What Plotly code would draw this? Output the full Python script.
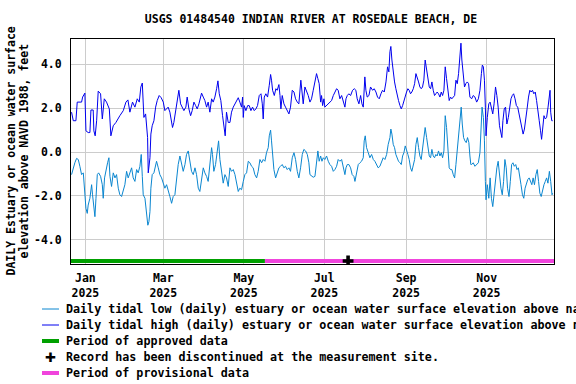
import pandas as pd
import plotly.graph_objects as go

# Day offsets from 2025-01-01 and values (feet)
high_day = [-10.5,-9.2,-7.2,-6.2,-2.9,-2.1,-0.4,0.4,2.1,3.4,4.2,5.9,6.4,7.4,8.5,9.7,11.5,12.8,14.3,16.0,18.1,19.3,21.1,23.1,26.1,28.7,30.7,32.2,33.7,35.7,37.5,39.3,40.8,42.0,43.1,44.3,45.6,47.1,47.6,
    48.9,49.6,50.6,51.9,53.2,54.4,55.9,57.4,59.0,60.2,61.5,62.7,64.0,65.3,66.0,67.0,68.3,69.6,70.8,72.1,73.4,74.6,76.1,77.1,78.4,79.7,80.9,82.2,83.5,84.7,86.0,87.2,88.0,89.3,90.5,91.8,93.0,94.3,95.6,96.8,98.1,99.4,100.4,101.4,102.6,103.9,104.9,105.9,106.9,108.2,
    109.5,110.7,112.0,113.3,114.5,115.8,117.0,118.3,119.1,119.6,120.3,121.6,122.9,124.1,125.4,126.6,127.9,129.2,130.4,131.7,133.0,134.0,134.7,135.5,136.7,138.0,139.3,140.3,141.0,141.8,143.1,144.3,145.3,146.6,147.4,148.1,149.1,150.4,151.6,152.9,154.2,155.4,156.7,158.0,159.2,160.5,161.7,163.2,164.3,165.0,166.3,167.5,168.8,
    170.1,171.3,172.6,173.9,175.1,176.1,177.1,178.2,178.9,179.7,180.7,181.4,182.7,184.0,185.2,186.5,187.8,189.0,190.3,191.5,192.8,194.1,195.3,196.6,197.4,198.4,199.6,200.9,202.4,203.7,204.9,205.9,207.2,208.5,209.5,210.5,211.7,212.5,213.5,214.8,216.0,217.6,218.8,220.1,221.3,222.6,223.9,225.1,226.4,227.7,228.9,229.9,
    230.7,231.4,232.2,233.2,234.2,235.2,236.2,237.2,238.3,239.3,240.3,241.3,242.3,243.3,244.3,245.3,246.3,247.3,248.4,249.4,250.4,251.4,252.4,253.4,254.4,255.4,256.4,257.4,258.5,259.5,260.5,261.5,262.5,263.5,264.5,265.5,266.5,267.5,268.6,269.6,270.6,271.6,272.6,273.6,274.6,275.6,276.6,277.6,278.7,279.7,280.7,281.7,282.7,283.7,284.5,285.2,286.2,287.2,288.2,289.3,290.3,
    291.3,292.6,293.8,295.1,296.4,297.7,298.9,300.0,300.7,301.5,302.3,303.0,303.5,304.5,305.6,306.6,307.6,308.6,309.6,310.7,311.7,312.7,313.7,314.8,315.5,316.3,317.3,318.3,319.3,320.4,321.4,322.4,323.4,324.4,325.5,326.5,327.5,328.5,329.5,330.6,331.6,332.6,333.6,334.6,335.7,336.7,337.7,338.7,339.7,340.8,341.8,342.8,343.8,344.8,345.6,346.4,347.4,348.4,349.4,350.5,351.5,352.0,352.5,353.3,354.0]
high_val = [1.82,1.43,1.43,2.28,2.28,2.51,2.69,0.97,0.89,0.89,1.92,1.92,0.97,0.74,1.43,2.78,2.66,1.51,2.43,2.28,1.97,0.74,1.2,1.35,1.66,1.89,2.28,2.38,1.82,2.28,2.05,2.43,2.28,2.97,3.15,1.58,1.74,0.66,-0.95,
    -0.26,0.82,1.2,1.43,2.05,2.35,2.58,2.48,2.28,1.89,1.97,2.05,1.82,1.35,1.12,1.35,1.89,2.43,2.82,2.2,2.05,1.89,2.05,2.51,1.97,1.66,1.89,2.28,2.12,1.97,2.2,2.43,2.69,2.51,2.35,2.05,2.28,1.82,2.43,2.28,2.51,2.89,3.25,2.66,2.35,1.66,1.2,0.74,1.82,1.35,
    1.35,1.82,2.05,2.2,2.35,2.48,2.28,2.05,2.51,1.58,2.12,1.89,2.12,2.12,1.89,2.05,1.89,1.97,2.12,2.58,2.66,2.2,1.51,2.51,2.66,2.51,3.05,3.54,3.28,2.82,2.58,2.89,2.82,3.08,2.58,1.97,2.58,2.2,2.05,1.89,1.74,2.05,2.82,2.74,2.43,2.28,2.2,3.28,2.58,2.2,2.97,2.82,2.58,
    2.28,2.43,2.82,3.2,3.58,3.35,3.12,2.28,2.58,2.12,2.43,2.05,2.12,2.2,2.28,2.35,2.58,2.74,2.89,2.82,2.43,2.58,2.35,2.05,2.43,2.58,2.66,2.58,2.82,2.89,2.82,2.43,2.2,2.58,2.2,2.05,3.43,2.82,2.51,2.58,2.97,2.82,2.89,2.74,2.51,2.43,2.66,2.82,2.74,3.2,3.89,3.66,
    4.58,4.82,4.2,3.58,3.2,2.89,2.58,2.35,2.12,1.97,2.12,2.35,2.51,2.74,2.89,2.82,2.66,2.74,2.89,3.12,3.58,3.43,3.2,2.97,2.89,2.97,3.28,4.2,3.82,3.35,2.97,2.89,3.2,2.82,2.58,2.66,2.74,2.66,2.51,2.74,2.58,2.82,3.89,3.35,2.74,2.35,2.51,2.43,2.51,2.58,3.28,3.12,3.58,4.66,4.97,4.2,3.43,2.97,3.12,3.2,3.12,
    2.51,2.43,2.58,2.51,2.28,2.43,2.82,3.58,3.97,3.89,3.28,2.05,0.74,1.58,2.2,2.28,2.05,1.74,2.2,2.97,2.58,2.05,1.2,0.82,0.66,1.43,1.97,2.05,1.28,1.58,2.05,2.43,2.58,2.66,2.43,2.12,2.05,1.74,1.43,1.12,0.82,1.05,1.43,1.97,2.51,2.82,2.74,2.82,2.66,2.74,2.35,1.97,1.43,0.97,0.58,1.05,1.66,1.51,1.58,2.05,2.43,2.82,1.82,1.43,1.43]

low_day = [-10.5,-9.2,-8.0,-6.7,-5.4,-4.2,-2.9,-1.6,-0.4,0.4,1.4,2.1,3.4,4.7,5.4,6.4,7.2,8.0,9.0,10.0,11.5,12.8,13.5,14.5,15.5,16.8,17.8,18.6,19.8,21.1,22.4,23.6,24.9,26.1,27.4,28.7,29.9,31.2,32.4,33.7,35.0,36.2,37.5,38.8,40.0,41.3,42.3,43.1,43.8,45.1,46.3,47.3,48.1,
    48.9,49.6,50.6,51.9,53.2,53.9,55.2,56.4,57.7,59.0,60.2,61.5,62.7,64.0,65.3,66.5,67.8,69.1,70.3,71.6,72.8,74.1,75.4,76.6,77.9,79.2,80.4,81.7,83.0,84.2,85.5,86.7,88.0,89.3,90.5,91.8,93.0,94.3,95.6,96.3,97.3,98.6,99.9,100.9,101.9,103.2,104.4,105.7,106.9,108.2,109.5,
    110.7,112.0,113.3,114.5,115.8,117.0,118.3,119.6,120.8,122.1,123.4,124.6,125.9,127.1,128.4,129.7,130.9,132.2,133.5,134.7,136.0,137.2,138.5,139.3,140.3,141.0,141.8,142.8,144.1,145.3,146.6,147.8,149.1,150.4,151.6,152.9,154.2,155.4,156.7,158.0,159.2,160.5,161.7,163.0,164.3,165.5,166.8,168.1,169.3,
    170.1,171.3,172.6,173.9,175.1,176.1,177.1,178.2,179.2,180.2,181.4,182.7,184.0,185.2,186.5,187.8,189.0,190.3,191.5,192.8,194.1,195.3,196.6,197.4,198.4,199.6,200.9,202.1,203.4,204.2,205.4,206.7,208.0,209.2,210.5,211.2,212.0,213.0,214.3,215.5,216.8,218.1,219.3,220.6,221.8,223.1,224.4,225.6,226.9,228.2,229.4,230.7,
    231.4,232.2,233.2,234.2,235.2,236.2,237.2,238.3,239.3,240.3,241.3,242.3,243.3,244.3,245.3,246.3,247.3,248.4,249.4,250.4,251.4,252.4,253.4,254.4,255.4,256.4,257.4,258.5,259.5,260.5,261.5,262.5,263.5,264.5,265.5,266.5,267.5,268.6,269.6,270.6,271.6,272.6,273.6,274.6,275.6,276.6,277.6,278.7,279.7,280.7,281.7,282.7,283.7,284.7,285.5,286.5,287.5,288.5,289.5,290.5,291.3,292.0,
    292.6,293.8,295.1,296.4,297.7,298.9,299.7,300.5,301.5,302.3,303.0,303.5,304.5,305.6,306.6,307.6,308.6,309.6,310.7,311.7,312.7,313.7,314.8,315.8,316.8,317.8,318.8,319.8,320.9,321.9,322.9,323.9,324.9,326.0,327.0,328.0,329.0,330.0,331.1,332.1,333.1,334.1,335.1,336.2,337.2,338.2,339.2,340.2,341.3,342.3,343.3,344.3,345.3,346.4,347.4,348.4,349.4,350.4,351.5,352.5,353.5,354.0]
low_val = [-1.03,-0.72,-0.49,-0.29,-0.34,-0.65,-1.03,-0.95,-1.95,-2.57,-2.8,-2.42,-2.11,-1.49,-1.95,-2.65,-2.95,-2.11,-1.03,-0.95,-1.11,-1.49,-2.11,-1.18,-0.8,-0.49,-0.26,-1.11,-1.57,-0.95,-1.18,-1.03,-1.65,-1.95,-2.03,-1.8,-1.49,-0.88,-1.18,-0.95,-0.72,-1.18,-1.34,-0.8,-0.95,-0.65,-0.11,-1.11,-1.95,-2.11,-2.72,-3.34,-3.18,
    -2.72,-1.65,-1.03,-0.95,-0.65,-0.42,-0.72,-1.03,-1.18,-1.49,-1.65,-1.49,-1.72,-2.03,-2.34,-2.03,-1.95,-1.03,-0.57,-0.18,-0.49,-0.88,-0.57,-0.11,0.05,-0.49,-0.88,-1.03,-0.72,-1.03,-1.65,-1.8,-1.34,-0.72,-0.95,-1.11,-1.34,-0.42,0.2,-0.11,-0.88,-0.57,0.05,0.51,-0.34,-0.8,-1.42,-1.03,-1.18,-1.57,-0.72,
    -0.88,-0.8,-1.03,-1.34,-1.8,-1.65,-1.72,-1.34,-1.03,-0.95,-0.42,-0.49,-0.65,-0.72,-1.03,-1.18,-0.88,-0.34,-0.49,-0.34,-0.42,-0.03,0.2,0.74,1.0,0.51,-0.11,-0.8,-1.18,-0.95,-0.72,-0.65,-0.57,-0.72,-0.65,-0.8,-0.72,-0.88,-0.26,-0.03,-0.34,-0.88,-1.18,-0.72,-0.11,0.12,0.05,-0.11,-0.49,
    -1.03,-1.11,-1.15,-1.11,-0.57,0.05,-0.42,-0.18,-0.42,-0.26,-0.34,-0.18,-0.42,-0.57,-0.65,-0.88,-0.8,-0.65,-0.34,-0.42,-0.34,-0.65,-1.03,-0.72,-0.57,-0.57,-0.72,-1.03,-1.11,-1.34,-0.95,-0.57,-0.49,-0.42,-0.26,0.51,0.74,0.2,-0.03,-0.26,-0.11,-0.34,-0.42,-0.57,-0.72,-0.65,-0.42,-0.26,-0.34,-0.11,0.35,0.66,
    1.05,0.82,0.35,0.2,-0.11,-0.26,-0.42,-0.49,-0.57,-0.18,-0.03,0.28,0.12,-0.11,-0.34,-0.72,-0.88,-0.65,-0.34,0.35,0.66,0.2,-0.18,-0.34,0.2,0.66,1.12,0.66,0.2,-0.18,-0.26,0.12,-0.18,-0.26,-0.11,-0.18,0.05,-0.18,-0.03,-0.26,0.05,1.66,1.12,0.05,-0.72,-0.8,-0.8,-1.03,-1.18,-0.57,0.05,0.97,1.58,2.05,1.28,0.66,0.51,0.43,0.66,0.43,-0.18,-0.57,
    -0.57,-0.49,-0.65,-0.57,-0.49,-0.03,0.82,2.05,1.58,0.51,-1.34,-2.18,-1.49,-2.11,-1.18,-2.11,-2.49,-1.8,-1.18,-0.72,-0.42,-1.18,-1.65,-1.95,-1.34,-0.34,-0.72,-1.65,-2.03,-1.34,-0.57,-0.49,-0.65,-0.57,-0.8,-0.72,-1.03,-1.49,-1.95,-2.11,-1.65,-1.42,-1.26,-1.18,-1.34,-1.49,-1.18,-1.49,-1.03,-0.8,-1.34,-1.88,-2.03,-1.65,-1.49,-1.34,-1.18,-1.42,-0.88,-1.34,-1.95,-1.88]

# Data-status periods
period_start = "2024-12-21"
approved_end = "2025-05-17"
period_end = "2025-12-22"
status_level = -4.97
discontinued_date = "2025-07-19"

tick_dates = ["2025-01-01", "2025-03-01", "2025-05-01", "2025-07-01", "2025-09-01", "2025-11-01"]
tick_months = ["Jan", "Mar", "May", "Jul", "Sep", "Nov"]
tick_years = ["2025"] * 6
y_ticks = [-4.0, -2.0, 0.0, 2.0, 4.0]

legend_labels = [
    "Daily tidal low (daily) estuary or ocean water surface elevation above navd 1988, feet",
    "Daily tidal high (daily) estuary or ocean water surface elevation above navd 1988, feet",
    "Period of approved data",
    "Record has been discontinued at the measurement site.",
    "Period of provisional data",
]

LOW_C = "#0a86d0"
HIGH_C = "#0000ee"
APPR_C = "#00a000"
PROV_C = "#f044dc"

base = pd.Timestamp("2025-01-01")
high_x = [base + pd.Timedelta(days=d) for d in high_day]
low_x = [base + pd.Timedelta(days=d) for d in low_day]

FONT = "DejaVu Sans Mono"
FS = 11.5
FS_LEG = 11.7
W, H = 576, 384
ML, MR, MT, MB = 71, 22, 39, 120
PW, PH = W - ML - MR, H - MT - MB

def px_x(p):
    return (p - ML) / PW

def px_y(p):
    return (H - MB - p) / PH

fig = go.Figure()
fig.add_trace(go.Scatter(x=low_x, y=low_val, mode="lines", line=dict(color=LOW_C, width=1), showlegend=False))
fig.add_trace(go.Scatter(x=high_x, y=high_val, mode="lines", line=dict(color=HIGH_C, width=1), showlegend=False))
fig.add_trace(go.Scatter(x=[period_start, approved_end], y=[status_level, status_level], mode="lines",
    line=dict(color=APPR_C, width=4), showlegend=False))
fig.add_trace(go.Scatter(x=[approved_end, period_end], y=[status_level, status_level], mode="lines",
    line=dict(color=PROV_C, width=4), showlegend=False))
fig.add_trace(go.Scatter(x=[discontinued_date], y=[status_level], mode="markers",
    marker=dict(symbol="cross", size=9, color="black"), showlegend=False))

fig.update_layout(
    width=W, height=H,
    margin=dict(l=ML, r=MR, t=MT, b=MB, autoexpand=False),
    paper_bgcolor="white", plot_bgcolor="white",
    font=dict(family=FONT, size=FS, color="black"),
    title=dict(text="<b>USGS 01484540 INDIAN RIVER AT ROSEDALE BEACH, DE</b>", xref="container", x=311 / W,
               xanchor="center", yref="container", y=1 - 19 / H, yanchor="middle",
               font=dict(family=FONT, size=FS, color="black")),
    showlegend=False,
)
fig.update_xaxes(range=["2024-12-21 02:00", "2025-12-22"], tickvals=tick_dates,
                 ticktext=["<b>%s</b><br><b>%s</b>" % (m, y) for m, y in zip(tick_months, tick_years)],
                 showgrid=True, gridcolor="#cccccc", gridwidth=1, showline=True, linecolor="black", linewidth=1,
                 mirror=True, ticks="", zeroline=False, tickfont=dict(family=FONT, size=FS),
                 ticklabelstandoff=3, automargin=False)
fig.update_yaxes(range=[-5.11, 5.16], tickvals=y_ticks, ticktext=["<b>%.1f</b>" % v for v in y_ticks],
                 showgrid=True, gridcolor="#cccccc", gridwidth=1, showline=True, linecolor="black", linewidth=1,
                 mirror=True, ticks="", zeroline=False, tickfont=dict(family=FONT, size=FS),
                 ticklabelstandoff=6, automargin=False)
fig.add_annotation(text="<b>DAILY Estuary or ocean water surface</b>", xref="paper", yref="paper",
                   x=px_x(10), y=0.5, xanchor="center", yanchor="middle", textangle=-90, showarrow=False,
                   font=dict(family=FONT, size=FS))
fig.add_annotation(text="<b>elevation above NAVD 1988, feet</b>", xref="paper", yref="paper",
                   x=px_x(23), y=0.5, xanchor="center", yanchor="middle", textangle=-90, showarrow=False,
                   font=dict(family=FONT, size=FS))

# Manual legend (symbol + text)
leg_rows = [309, 325, 341, 357, 373]
leg_styles = [("line", LOW_C, 1), ("line", HIGH_C, 1), ("line", APPR_C, 4), ("cross", "black", 0), ("line", PROV_C, 4)]
for row, label, (kind, col, wid) in zip(leg_rows, legend_labels, leg_styles):
    if kind == "line":
        fig.add_shape(type="line", xref="paper", yref="paper", x0=px_x(42), x1=px_x(59),
                      y0=px_y(row), y1=px_y(row), line=dict(color=col, width=wid))
    else:
        fig.add_annotation(text="<b>\u271a</b>", xref="paper", yref="paper", x=px_x(50), y=px_y(row),
                           xanchor="center", yanchor="middle", showarrow=False,
                           font=dict(family="DejaVu Sans", size=13, color=col))
    fig.add_annotation(text="<b>%s</b>" % label, xref="paper", yref="paper", x=px_x(64), y=px_y(row),
                       xanchor="left", yanchor="middle", showarrow=False, align="left",
                       font=dict(family=FONT, size=FS_LEG, color="black"))

fig.write_html("out.html", config={"displayModeBar": False},
               post_script="document.body.style.margin='0';document.body.style.overflow='hidden';")
